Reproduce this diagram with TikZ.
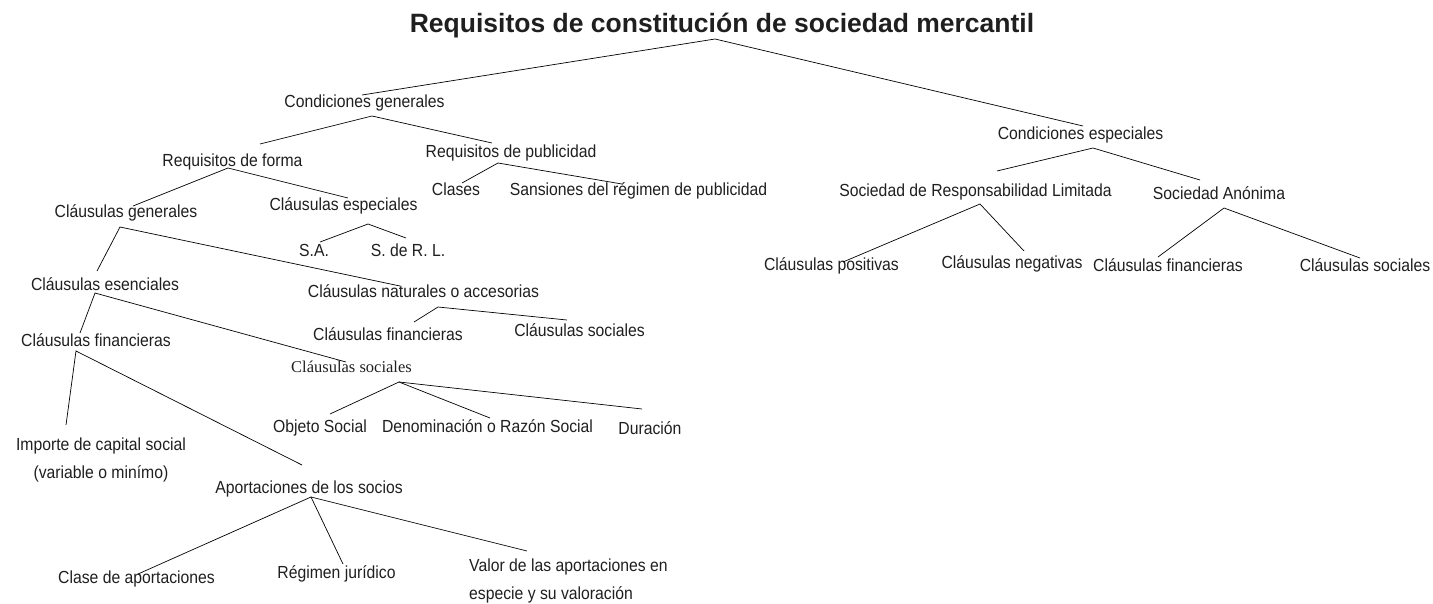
\documentclass[tikz,border=0pt]{standalone}
\usepackage{fontspec}
\setmainfont{Liberation Sans}
\newfontfamily\narrowface[FakeStretch=0.9]{Liberation Sans}
\newfontfamily\serifface{Liberation Serif}
\begin{document}
\begin{tikzpicture}[x=1pt,y=-1pt,
  lbl/.style={font=\fontsize{17.5}{20}\narrowface, text=black!88, inner sep=0pt, anchor=base},
  conn/.style={line width=0.7pt, black}]
\useasboundingbox (0,0) rectangle (1433,603);
% nodes
\node[inner sep=0pt, anchor=base, text=black!88, font=\fontsize{26.5}{30}\selectfont\bfseries] (title) at (722,32.5) {Requisitos de constitución de sociedad mercantil};
\node[lbl] (cg) at (364.5,107.5) {Condiciones generales};
\node[lbl] (ce) at (1080.5,139.5) {Condiciones especiales};
\node[lbl] (rf) at (232.5,166.5) {Requisitos de forma};
\node[lbl] (rp) at (511,157.5) {Requisitos de publicidad};
\node[lbl] (cgen) at (126,217.5) {Cláusulas generales};
\node[lbl] (cesp) at (343.5,210.5) {Cláusulas especiales};
\node[lbl] (clases) at (456,195.5) {Clases};
\node[lbl] (sans) at (638.5,195.5) {Sansiones del régimen de publicidad};
\node[lbl] (srl) at (975.5,196.5) {Sociedad de Responsabilidad Limitada};
\node[lbl] (sa) at (1219,199.5) {Sociedad Anónima};
\node[lbl] (sa2) at (314,256.5) {S.A.};
\node[lbl] (srl2) at (408,256.5) {S. de R. L.};
\node[lbl] (cpos) at (831.5,270.5) {Cláusulas positivas};
\node[lbl] (cneg) at (1012,268.5) {Cláusulas negativas};
\node[lbl] (cfinR) at (1168,271.5) {Cláusulas financieras};
\node[lbl] (csocR) at (1365,271.5) {Cláusulas sociales};
\node[lbl] (cesen) at (105,290.5) {Cláusulas esenciales};
\node[lbl] (cna) at (423.5,297.5) {Cláusulas naturales o accesorias};
\node[lbl] (cfinM) at (388,340.5) {Cláusulas financieras};
\node[lbl] (csocM) at (579.5,336.5) {Cláusulas sociales};
\node[lbl] (cfinL) at (96,346.5) {Cláusulas financieras};
\node[lbl, font=\fontsize{16.5}{18}\serifface] (csocS) at (351.5,372) {Cláusulas sociales};
\node[lbl] (obj) at (320,432.5) {Objeto Social};
\node[lbl] (den) at (487.5,432.5) {Denominación o Razón Social};
\node[lbl] (dur) at (650,434.5) {Duración};
\node[lbl, anchor=center, align=center, font=\fontsize{17.5}{28}\narrowface] (imp) at (101,460) {Importe de capital social\\(variable o minímo)};
\node[lbl] (apo) at (309,493.5) {Aportaciones de los socios};
\node[lbl] (clap) at (136.5,583.5) {Clase de aportaciones};
\node[lbl] (reg) at (336.5,578.5) {Régimen jurídico};
\node[lbl, anchor=west, align=left, font=\fontsize{17.5}{28}\narrowface] (val) at (469,581) {Valor de las aportaciones en\\especie y su valoración};
% connector points
\coordinate (tA) at (715,39);
\coordinate (cgT) at (362,95);
\coordinate (ceT) at (1083,126);
\coordinate (cgA) at (372,116);
\coordinate (rfT) at (260,144);
\coordinate (rpT) at (492,143);
\coordinate (rfA) at (228,168);
\coordinate (cgenT) at (133,206);
\coordinate (cespT) at (348,198);
\coordinate (rpA) at (498,163);
\coordinate (clasesT) at (462,183);
\coordinate (sansT) at (622,184);
\coordinate (cespA) at (368,224);
\coordinate (sa2T) at (320,242);
\coordinate (srl2T) at (406,238);
\coordinate (cgenA) at (120,227);
\coordinate (cesenT) at (97,271);
\coordinate (cnaT) at (400,286);
\coordinate (cesenA) at (95,293);
\coordinate (cfinLT) at (80,333);
\coordinate (csocST) at (346,362);
\coordinate (cnaA) at (438,307);
\coordinate (cfinMT) at (414,322);
\coordinate (csocMT) at (567,320);
\coordinate (ceA) at (1093,148);
\coordinate (srlT) at (997,171);
\coordinate (saT) at (1200,180);
\coordinate (srlA) at (980,204);
\coordinate (cposT) at (843,262);
\coordinate (cnegT) at (1024,251);
\coordinate (saA) at (1224,208);
\coordinate (cfinRT) at (1158,257);
\coordinate (csocRT) at (1360,258);
\coordinate (cfinLA) at (76,351);
\coordinate (impT) at (66,425);
\coordinate (apoT) at (302,465);
\coordinate (csocSA) at (399,382);
\coordinate (objT) at (330,414);
\coordinate (denT) at (490,418);
\coordinate (durT) at (642,409);
\coordinate (apoA) at (311,497);
\coordinate (clapT) at (138,574);
\coordinate (regT) at (343,564);
\coordinate (valT) at (527,551);
% connectors
\draw[conn] (cgT) -- (tA) -- (ceT);
\draw[conn] (rfT) -- (cgA) -- (rpT);
\draw[conn] (cgenT) -- (rfA) -- (cespT);
\draw[conn] (clasesT) -- (rpA) -- (sansT);
\draw[conn] (sa2T) -- (cespA) -- (srl2T);
\draw[conn] (cesenT) -- (cgenA) -- (cnaT);
\draw[conn] (cfinLT) -- (cesenA) -- (csocST);
\draw[conn] (cfinMT) -- (cnaA) -- (csocMT);
\draw[conn] (srlT) -- (ceA) -- (saT);
\draw[conn] (cposT) -- (srlA) -- (cnegT);
\draw[conn] (cfinRT) -- (saA) -- (csocRT);
\draw[conn] (impT) -- (cfinLA) -- (apoT);
\draw[conn] (objT) -- (csocSA) -- (denT);
\draw[conn] (csocSA) -- (durT);
\draw[conn] (clapT) -- (apoA) -- (regT);
\draw[conn] (apoA) -- (valT);
\end{tikzpicture}
\end{document}
